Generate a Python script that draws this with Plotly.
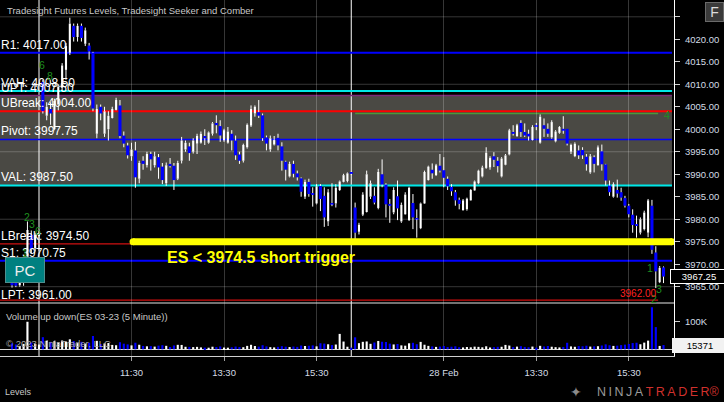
import plotly.graph_objects as go
import pandas as pd

# ---------------- data ----------------
pre_times = pd.date_range("2023-02-27 08:55", "2023-02-27 09:30", freq="5min")
d1_times = pd.date_range("2023-02-27 09:35", "2023-02-27 16:15", freq="5min")
d2_times = pd.date_range("2023-02-28 09:35", "2023-02-28 16:15", freq="5min")

pre_open = [3966.3, 3966.0, 3965.3, 3966.4, 3970.5, 3976.5, 3973.5, 3976.2]
pre_high = [3966.6, 3966.4, 3966.8, 3971.2, 3979.5, 3977.5, 3977.0, 3977.5]
pre_low = [3964.8, 3964.9, 3965.0, 3965.2, 3970.0, 3972.5, 3972.8, 3973.0]
pre_close = [3965.3, 3965.2, 3966.5, 3970.6, 3977.6, 3973.3, 3976.5, 3976.8]
pre_volume = [21800, 17500, 12400, 19600, 99800, 24300, 20100, 17200]

d1_open = [4010.5, 4003.0, 4004.5, 4000.0, 4005.5, 4009.4, 4013.2, 4017.0, 4023.0, 4020.5, 4023.0, 4019.0,
           4018.6, 4017.0, 3999.0, 4005.0, 3999.0, 4000.0, 4002.5, 4004.3, 4005.3, 3998.6, 3996.4, 3994.0,
           3995.3, 3989.0, 3993.0, 3992.0, 3994.5, 3992.0, 3993.8, 3991.7, 3988.0, 3992.3, 3991.9, 3989.0,
           3993.0, 3995.5, 3996.2, 3995.0, 3996.8, 3997.0, 3998.5, 3997.0, 3999.0, 4001.4, 4000.7, 3997.5,
           3997.0, 3999.0, 3997.5, 3994.4, 3993.0, 3996.0, 4000.8, 4003.5, 4003.8, 4003.1,
           3998.2, 3995.5, 3996.6, 3998.1, 3996.2, 3992.8, 3989.5, 3992.3, 3990.2, 3989.1, 3985.0, 3988.3,
           3985.8, 3983.5, 3987.4, 3985.2, 3979.5, 3983.6, 3983.5, 3986.5, 3988.3, 3988.5, 3990.5]
d1_high = [4011.0, 4006.0, 4006.0, 4006.8, 4010.0, 4014.7, 4019.2, 4024.8, 4023.5, 4023.5, 4023.5, 4022.6,
           4019.2, 4017.2, 4005.5, 4005.5, 4005.0, 4004.0, 4005.0, 4007.0, 4006.5, 3999.5, 3997.0, 3997.0,
           3997.2, 3993.0, 3994.0, 3995.0, 3995.0, 3995.0, 3994.5, 3992.5, 3992.6, 3993.6, 3992.5, 3993.0,
           3998.3, 3997.5, 3997.0, 3998.0, 3999.0, 3999.5, 4000.0, 3999.5, 4001.6, 4003.1, 4002.0, 4000.1,
           4000.5, 3999.8, 3998.6, 3995.0, 3996.8, 4001.3, 4005.3, 4005.3, 4006.5, 4003.5,
           3998.6, 3998.6, 3998.5, 3999.0, 3997.1, 3993.0, 3992.8, 3993.0, 3990.8, 3989.3, 3988.8, 3989.0,
           3987.1, 3987.8, 3987.8, 3987.1, 3986.7, 3988.0, 3987.8, 3988.6, 3990.1, 3990.4, 3990.6]
d1_low = [4003.5, 4002.0, 4001.0, 3999.8, 4004.2, 4008.5, 4011.0, 4016.5, 4019.5, 4019.5, 4019.5, 4018.5,
          4015.5, 4004.0, 3998.0, 4002.0, 3998.3, 3997.5, 4002.4, 4004.2, 3998.0, 3996.0, 3993.5, 3993.0,
          3987.0, 3988.0, 3991.0, 3991.5, 3990.8, 3991.5, 3989.0, 3987.8, 3987.4, 3991.5, 3986.5, 3988.7,
          3992.4, 3995.0, 3993.0, 3994.6, 3994.5, 3996.8, 3996.5, 3996.8, 3998.6, 3999.1, 3997.2, 3997.2,
          3996.8, 3995.3, 3993.2, 3992.3, 3992.6, 3995.7, 4000.5, 4002.8, 4002.5, 3997.4,
          3995.3, 3995.0, 3996.4, 3995.3, 3990.8, 3988.6, 3989.3, 3989.3, 3988.6, 3985.0, 3984.5, 3985.0,
          3982.8, 3983.3, 3981.8, 3978.3, 3978.5, 3982.9, 3982.6, 3986.3, 3988.2, 3988.2, 3989.8]
d1_close = [4004.0, 4005.0, 4003.5, 4006.3, 4009.5, 4014.2, 4018.5, 4023.5, 4020.5, 4023.0, 4020.3, 4022.0,
            4017.3, 4004.6, 4004.5, 4003.5, 4004.0, 4003.0, 4004.5, 4006.5, 3998.5, 3996.8, 3994.2, 3995.5,
            3989.3, 3992.5, 3992.3, 3994.5, 3993.3, 3994.0, 3991.5, 3988.7, 3992.0, 3991.8, 3988.7, 3992.5,
            3997.5, 3997.0, 3994.7, 3997.5, 3998.5, 3999.0, 3998.0, 3999.3, 4001.3, 4000.9, 3998.6, 3999.8,
            3999.5, 3997.5, 3994.2, 3993.0, 3996.5, 4001.0, 4004.5, 4005.0, 4003.0, 3998.0,
            3996.8, 3998.0, 3997.6, 3996.4, 3993.0, 3991.0, 3992.3, 3990.1, 3989.3, 3986.1, 3988.3, 3985.6,
            3985.4, 3987.3, 3984.5, 3980.4, 3986.0, 3983.3, 3987.0, 3988.4, 3989.8, 3990.2, 3990.1]
d1_volume = [43900, 31200, 26800, 29400, 24700, 31800, 27500, 36200, 29800, 22400, 27100, 20600,
             23900, 48300, 30600, 18700, 21200, 22800, 15900, 14700, 25600, 20300, 17800, 14200,
             23800, 16400, 12100, 10800, 11600, 9700, 13200, 14800, 12600, 8400, 13900, 16200,
             15800, 9100, 8700, 7900, 8800, 6900, 6200, 5800, 9400, 8100, 10200, 6400,
             5900, 7300, 9800, 8200, 7600, 12400, 16300, 11800, 9600, 14800,
             10400, 7800, 6900, 8800, 11200, 9400, 8100, 9900, 8700, 13600, 11900, 12800,
             14100, 10600, 21900, 20600, 18200, 15400, 17300, 55800, 28100, 9300, 6100]

d2_open = [3982.6, 3977.2, 3981.0, 3981.6, 3985.0, 3985.2, 3982.5, 3990.0, 3987.7, 3983.4, 3981.5, 3985.1,
           3979.5, 3981.1, 3979.8, 3983.6, 3980.2, 3978.0, 3983.5, 3988.7, 3991.0, 3989.8, 3991.9, 3990.9,
           3989.0, 3987.2, 3986.0, 3984.3, 3982.0, 3982.2, 3984.2, 3986.4, 3988.0, 3989.5, 3991.4, 3991.5,
           3994.0, 3993.0, 3989.5, 3992.1, 3994.4, 3999.4, 3998.5, 4001.4, 3999.4, 3999.0, 3997.6, 4000.8,
           3997.0, 4000.9, 4000.1, 3998.2, 3997.3, 3999.2, 4000.1, 4000.1, 3995.0, 3994.0, 3995.3, 3995.4,
           3993.9, 3990.4, 3993.8, 3992.0, 3995.1, 3992.2, 3987.5, 3985.0, 3986.5, 3986.0, 3984.7, 3983.0,
           3981.0, 3978.9, 3977.0, 3977.8, 3977.0, 3983.0, 3972.6, 3966.0, 3969.3]
d2_high = [3983.7, 3979.2, 3986.0, 3990.8, 3988.6, 3987.1, 3991.2, 3993.3, 3988.0, 3984.5, 3987.1, 3988.6,
           3983.7, 3986.0, 3987.2, 3985.6, 3982.2, 3983.7, 3990.8, 3991.9, 3992.4, 3992.3, 3994.5, 3993.8,
           3989.5, 3987.8, 3986.5, 3984.8, 3984.5, 3984.8, 3986.7, 3988.6, 3991.0, 3991.9, 3996.0, 3994.0,
           3994.9, 3993.8, 3993.8, 3994.5, 4000.1, 4000.9, 4001.2, 4002.0, 4001.3, 3999.9, 4000.9, 4001.4,
           4003.3, 4002.4, 4001.3, 4002.0, 3999.8, 4000.7, 4002.9, 4000.1, 3996.8, 3997.1, 3996.4, 3996.0,
           3994.5, 3994.5, 3994.2, 3996.4, 3996.6, 3992.3, 3988.6, 3988.2, 3988.8, 3987.0, 3985.2, 3983.4,
           3982.2, 3980.8, 3980.4, 3981.9, 3984.5, 3984.3, 3974.0, 3969.6, 3969.5]
d2_low = [3975.5, 3976.6, 3980.7, 3981.5, 3984.5, 3983.3, 3982.2, 3987.1, 3980.4, 3979.2, 3981.1, 3979.8,
          3979.2, 3981.0, 3979.6, 3977.8, 3975.9, 3977.8, 3983.4, 3988.6, 3989.0, 3989.6, 3990.4, 3987.1,
          3986.5, 3985.2, 3983.0, 3982.2, 3981.9, 3981.9, 3984.1, 3986.3, 3987.8, 3989.3, 3991.2, 3991.0,
          3991.6, 3990.4, 3989.3, 3992.0, 3994.2, 3998.6, 3998.3, 3998.3, 3998.3, 3997.5, 3997.5, 3999.8,
          3996.8, 3998.3, 3998.3, 3997.9, 3997.1, 3999.0, 3999.0, 3996.4, 3994.5, 3993.8, 3993.4, 3993.4,
          3990.8, 3990.1, 3990.4, 3991.9, 3990.8, 3987.5, 3985.2, 3984.8, 3984.8, 3984.1, 3982.6, 3980.4,
          3977.0, 3975.9, 3976.6, 3977.5, 3976.0, 3972.3, 3964.7, 3965.8, 3965.8]
d2_close = [3977.0, 3978.8, 3985.5, 3990.0, 3988.0, 3983.7, 3990.5, 3987.7, 3983.3, 3983.0, 3986.5, 3982.4,
            3983.2, 3985.5, 3987.0, 3980.4, 3980.0, 3983.5, 3990.5, 3991.7, 3990.2, 3992.0, 3990.8, 3989.2,
            3987.3, 3986.2, 3984.2, 3983.4, 3984.2, 3984.6, 3986.5, 3988.4, 3990.8, 3991.5, 3994.8, 3993.6,
            3993.2, 3991.8, 3993.5, 3994.2, 3999.8, 3999.0, 4000.9, 3999.4, 3998.6, 3998.4, 4000.5, 4000.6,
            4002.8, 4000.1, 3999.0, 4001.6, 3999.5, 4000.5, 3999.7, 3996.8, 3996.5, 3996.8, 3994.2, 3994.2,
            3992.2, 3994.0, 3992.3, 3996.0, 3992.2, 3988.6, 3986.0, 3987.8, 3985.7, 3984.8, 3983.0, 3981.1,
            3978.7, 3978.5, 3980.0, 3981.5, 3984.2, 3973.2, 3968.4, 3969.2, 3967.25]
d2_volume = [43400, 22300, 27100, 28400, 19800, 24600, 30200, 27300, 26500, 20400,
             17600, 19300, 14200, 13100, 21800, 23500, 18400, 26900, 16600, 12400,
             10300, 8700, 9800, 11900, 8200, 9400, 10800, 7600, 6900, 8400,
             7300, 9600, 8800, 7200, 10900, 6600, 7800, 8900, 9200, 15900,
             13400, 8100, 9700, 11300, 8600, 7400, 9900, 6200, 12600, 10100,
             11800, 9300, 7700, 6800, 8600, 23700, 10400, 9100, 11600, 10800,
             12900, 9800, 10600, 11200, 13800, 17900, 14600, 12300, 13100, 15200,
             16800, 19400, 22600, 23800, 18300, 24200, 31400, 152300, 80400, 12200,
             15371]

tick_times = ["2023-02-27 11:30", "2023-02-27 13:30", "2023-02-27 15:30",
              "2023-02-28 11:30", "2023-02-28 13:30", "2023-02-28 15:30"]
tick_labels = ["11:30", "13:30", "15:30", "28 Feb", "13:30", "15:30"]

price_ticks = [4025, 4020, 4015, 4010, 4005, 4000, 3995, 3990, 3985, 3980, 3975, 3970, 3965]
price_tick_text = [" ", "4020.00", "4015.00", "4010.00", "4005.00", "4000.00", "3995.00", "3990.00",
                   "3985.00", "3980.00", "3975.00", "3970.00", "3965.00"]
price_grid = [4025, 4010, 3995, 3980, 3965]
volume_ticks = [100000]
volume_tick_text = ["100K"]

level_names = ["R1", "VAH", "UPT", "UBreak", "Pivot", "VAL", "LBreak", "S1", "LPT"]
level_values = [4017.00, 4008.50, 4007.50, 4004.00, 3997.75, 3987.50, 3974.50, 3970.75, 3961.00]
level_colors = ["#0000ff", "#00e8e8", "#7b2a7b", "#ff0000", "#0000ff", "#00e8e8", "#d01010", "#0000ff", "#d01010"]
level_widths = [2, 2, 1.5, 2, 1.5, 2, 1.2, 2, 1.2]

prior_low_level = 3962.00
seeker_level = 4003.50
trigger_line_price = 3975.0
trigger_text = "<b>ES &lt; 3974.5 short trigger</b>"
seeker_counts = [("6", 7.86, 4014.3), ("8", 9.85, 4011.8), ("2", 3.96, 3980.6), ("3", 5.1, 3978.9),
                 ("6", 6.8, 3977.4), ("1", 3.37, 3972.4), ("4", 169.9, 4003.2), ("1", 165.5, 3969.1),
                 ("2", 166.6, 3962.2), ("3", 167.8, 3964.5)]

chart_title = "Tradesight Futures Levels, Tradesight Seeker and Comber"
volume_title = "Volume up down(ES 03-23 (5 Minute))"

# ---------------- build ----------------
times = list(pre_times) + list(d1_times) + list(d2_times)
op = pre_open + d1_open + d2_open
hi = pre_high + d1_high + d2_high
lo = pre_low + d1_low + d2_low
cl = pre_close + d1_close + d2_close
vol = pre_volume + d1_volume + d2_volume
n = len(times)
assert len(op) == len(hi) == len(lo) == len(cl) == len(vol) == n

idx = list(range(n))
pos = {t: i for i, t in enumerate(times)}
tickvals = [pos[pd.Timestamp(t)] for t in tick_times]
session_marks = [pos[pd.Timestamp("2023-02-27 09:30")], pos[d1_times[-1]]]

BLUE = "#0000ff"
WHITE = "#ffffff"
GRID = "rgba(255,255,255,0.21)"
FONT = "Liberation Sans, Arial, sans-serif"
AXT = "#d4dce6"

up = [c >= o for o, c in zip(op, cl)]
colors = [WHITE if u else BLUE for u in up]
body_lo = [min(o, c) for o, c in zip(op, cl)]
body_h = [max(abs(c - o), 0.25) for o, c in zip(op, cl)]
body_w = [0.55 if u else 0.8 for u in up]

wx, wy = [], []
for i in idx:
    top = body_lo[i] + body_h[i]
    wx += [i, i, None, i, i, None]
    wy += [hi[i], top, None, body_lo[i], lo[i], None]

x_range = [-3.117, 171.72]
y_range = [3961.374, 4028.737]
v_range = [-24275, 167754]
vol_frac = 53 / 356

fig = go.Figure()
fig.add_trace(go.Bar(x=idx, y=body_h, base=body_lo, width=body_w,
                     marker=dict(color=colors, line=dict(width=0)), xaxis="x", yaxis="y",
                     hoverinfo="skip"))
fig.add_trace(go.Scatter(x=wx, y=wy, mode="lines", line=dict(color=WHITE, width=1),
                         xaxis="x", yaxis="y", hoverinfo="skip"))
fig.add_trace(go.Bar(x=idx, y=vol, width=0.55, marker=dict(color=colors, line=dict(width=0)),
                     xaxis="x", yaxis="y2", hoverinfo="skip"))
fig.add_trace(go.Scatter(x=[31.4, 171.2], y=[trigger_line_price, trigger_line_price], mode="lines+markers",
                         line=dict(color="#ffff00", width=7), marker=dict(size=7, color="#ffff00"),
                         xaxis="x", yaxis="y", hoverinfo="skip"))

shapes = []
band_top = level_values[level_names.index("UPT")]
band_bot = level_values[level_names.index("VAL")]
shapes.append(dict(type="rect", xref="paper", yref="y", x0=0, x1=0.997, y0=band_bot, y1=band_top,
                   fillcolor="rgba(140,138,128,0.53)", line=dict(width=0), layer="below"))
for g in price_grid:
    shapes.append(dict(type="line", xref="paper", yref="y", x0=0, x1=1, y0=g, y1=g,
                       line=dict(color=GRID, width=1), layer="below"))
for s in session_marks:
    shapes.append(dict(type="line", xref="x", yref="paper", x0=s, x1=s, y0=0, y1=1,
                       line=dict(color=WHITE, width=1), layer="below"))
for v, c, w in zip(level_values, level_colors, level_widths):
    if v > y_range[0]:
        shapes.append(dict(type="line", xref="paper", yref="y", x0=0, x1=0.997, y0=v, y1=v,
                           line=dict(color=c, width=w), layer="below"))
shapes.append(dict(type="line", xref="x", yref="y", x0=x_range[0], x1=167.6, y0=prior_low_level,
                   y1=prior_low_level, line=dict(color="#d01010", width=1.2), layer="below"))
shapes.append(dict(type="line", xref="x", yref="y", x0=89, x1=167.6, y0=seeker_level, y1=seeker_level,
                   line=dict(color="#4a9a3a", width=1.5), layer="below"))
shapes.append(dict(type="line", xref="paper", yref="paper", x0=0, x1=1, y0=vol_frac, y1=vol_frac,
                   line=dict(color="#e6e6e6", width=1), layer="above"))

ann = []
ann.append(dict(text=chart_title, xref="paper", yref="paper", x=0, y=1, xanchor="left", yanchor="top",
                xshift=5, yshift=-3, showarrow=False, font=dict(size=9.5, color="#c8c8c8")))
for name, v in zip(level_names, level_values):
    ya = max(v, y_range[0] + 0.01)
    ann.append(dict(text=f"{name}: {v:.2f}", xref="paper", yref="y", x=0, y=ya, xanchor="left",
                    yanchor="bottom", xshift=0, showarrow=False, borderpad=0,
                    font=dict(size=12, color=WHITE)))
for t, xi, yv in seeker_counts:
    ann.append(dict(text=t, xref="x", yref="y", x=xi, y=yv, showarrow=False,
                    font=dict(size=10.5, color="#1f8f1f")))
ann.append(dict(text=trigger_text, xref="x", yref="y", x=39.7, y=3971.44, xanchor="left",
                yanchor="middle", showarrow=False, font=dict(size=16, color="#ffff00", family=FONT)))
ann.append(dict(text=f"{prior_low_level:.2f}", xref="x", yref="y", x=167.6, y=prior_low_level,
                xanchor="right", yanchor="bottom", showarrow=False, borderpad=0,
                font=dict(size=10, color="#ff2020")))
ann.append(dict(text="PC", xref="paper", yref="paper", x=0, y=(356 - 270) / 356, xanchor="left",
                yanchor="middle", xshift=5, showarrow=False, width=36, height=22,
                bgcolor="#008080", bordercolor="#4f8f8f", borderwidth=1,
                font=dict(size=15, color="#eeeeee")))
ann.append(dict(text=volume_title, xref="paper", yref="paper", x=0, y=vol_frac, xanchor="left",
                yanchor="top", xshift=4, yshift=-6, showarrow=False, font=dict(size=9.5, color="#c8c8c8")))
ann.append(dict(text="© 2023 NinjaTrader, LLC", xref="paper", yref="paper", x=0, y=0, xanchor="left",
                yanchor="middle", xshift=4, yshift=13, showarrow=False,
                font=dict(size=9.5, color="#a8a8a8")))
ann.append(dict(text="Levels", xref="paper", yref="paper", x=0, y=0, xanchor="left", yanchor="middle",
                xshift=3, yshift=-36, showarrow=False, font=dict(size=9, color="#c8c8c8")))
ann.append(dict(text="F", xref="paper", yref="paper", x=1, y=1, xanchor="left", yanchor="top",
                xshift=31, yshift=-2, showarrow=False, width=15, height=16, bgcolor="#3a3a3a",
                bordercolor="#6a6a6a", borderwidth=1, font=dict(size=14, color="#dddddd")))
ann.append(dict(text="\u2726", xref="paper", yref="paper", x=1, y=0, xanchor="right", yanchor="middle",
                xshift=-90, yshift=-36, showarrow=False, font=dict(size=14, color="#8a8a8a",
                                                                  family="DejaVu Sans")))
logo = ("<span style='color:#9a9a9a'>N\u2009I\u2009N\u2009J\u2009A</span>\u2009"
        "<span style='color:#d0312d'>T\u2009R\u2009A\u2009D\u2009E\u2009R</span>"
        "<span style='color:#d0312d'>\u00ae</span>")
ann.append(dict(text=logo, xref="paper", yref="paper", x=1, y=0, xanchor="right", yanchor="middle",
                xshift=48, yshift=-36, showarrow=False, font=dict(size=12.5)))
ann.append(dict(text=f"{cl[-1]:.2f}", xref="paper", yref="y", x=1, y=cl[-1], xanchor="left",
                yanchor="middle", xshift=-4, showarrow=False, width=54, bgcolor="black",
                bordercolor=WHITE, borderwidth=1, borderpad=1, font=dict(size=9.5, color=WHITE)))
ann.append(dict(text=f"{vol[-1]}", xref="paper", yref="y2", x=1, y=vol[-1], xanchor="left",
                yanchor="middle", xshift=-2, showarrow=False, width=52, bgcolor="#f2f2f2",
                bordercolor="#f2f2f2", borderwidth=1, borderpad=1, font=dict(size=9.5, color="black")))

fig.update_layout(
    width=724, height=402, margin=dict(l=0, r=50, t=0, b=46),
    paper_bgcolor="black", plot_bgcolor="black", showlegend=False, barmode="overlay",
    hovermode=False, font=dict(family=FONT, color=AXT),
    shapes=shapes, annotations=ann,
    xaxis=dict(range=x_range, domain=[0, 1], anchor="y2", tickvals=tickvals, ticktext=tick_labels,
               showgrid=True, gridcolor=GRID, gridwidth=1, ticks="outside", ticklen=4,
               tickcolor="#a0a0a0", tickfont=dict(size=9.5, color=AXT), ticklabelstandoff=4,
               showline=True, linecolor="#d0d0d0", linewidth=1, zeroline=False, fixedrange=True),
    yaxis=dict(domain=[vol_frac, 1], range=y_range, side="right", anchor="x",
               tickvals=price_ticks, ticktext=price_tick_text, ticks="outside", ticklen=5,
               tickcolor="#d0d0d0", tickfont=dict(size=9.5, color=AXT), ticklabelstandoff=3,
               showgrid=False, showline=True, linecolor=WHITE, linewidth=1, zeroline=False),
    yaxis2=dict(domain=[0, vol_frac], range=v_range, side="right", anchor="x",
                tickvals=volume_ticks, ticktext=volume_tick_text, ticks="outside", ticklen=5,
                tickcolor="#d0d0d0", tickfont=dict(size=9.5, color=AXT), ticklabelstandoff=3,
                showgrid=False, showline=True, linecolor=WHITE, linewidth=1,
                zeroline=True, zerolinecolor="#d8d8d8", zerolinewidth=1),
)

fig.write_html("out.html", config={"displayModeBar": False},
               post_script="document.body.style.margin='0';document.body.style.overflow='hidden';"
                           "document.documentElement.style.overflow='hidden';")
